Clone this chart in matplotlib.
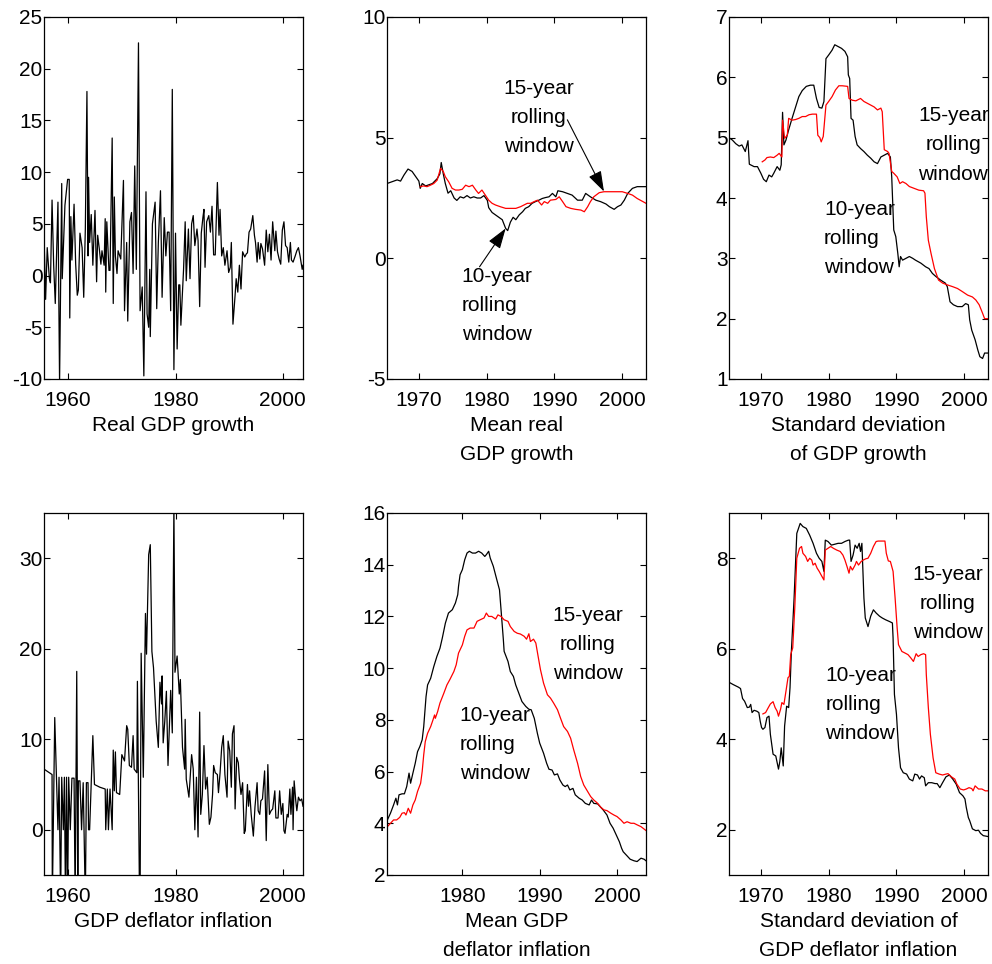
import matplotlib
matplotlib.use('Agg')
import matplotlib.pyplot as plt

plt.rcParams['font.family'] = ['Liberation Sans', 'DejaVu Sans']
plt.rcParams['axes.unicode_minus'] = False

# ---- Real GDP growth (quarterly, annualised) ----
gdp_years = [
    1955.5, 1955.8, 1956.1, 1956.5, 1956.7, 1957.0, 1957.3, 1957.6, 1958.1, 1958.4,
    1958.8, 1958.9, 1959.4, 1959.9, 1960.2, 1960.3, 1960.5, 1960.7, 1961.1, 1961.4,
    1961.7, 1961.9, 1962.2, 1962.6, 1962.9, 1963.2, 1963.5, 1963.7, 1963.8, 1964.0,
    1964.3, 1964.6, 1965.0, 1965.3, 1965.5, 1965.8, 1966.1, 1966.3, 1966.7, 1966.9,
    1967.0, 1967.2, 1967.6, 1967.8, 1968.2, 1968.4, 1968.6, 1968.8, 1969.1, 1969.3,
    1969.8, 1970.3, 1970.5, 1970.9, 1971.1, 1971.5, 1971.8, 1972.1, 1972.4, 1972.7,
    1973.1, 1973.4, 1973.8, 1974.1, 1974.5, 1974.7, 1975.0, 1975.2, 1975.3, 1975.7,
    1976.2, 1976.5, 1976.8, 1977.2, 1977.5, 1977.9, 1978.2, 1978.5, 1978.8, 1979.1,
    1979.4, 1979.7, 1980.0, 1980.3, 1980.6, 1980.8, 1981.0, 1981.5, 1981.8, 1982.0,
    1982.4, 1982.7, 1983.0, 1983.3, 1983.6, 1984.0, 1984.2, 1984.5, 1984.8, 1985.1,
    1985.3, 1985.5, 1985.8, 1986.2, 1986.5, 1986.8, 1987.1, 1987.4, 1987.6, 1987.8,
    1988.1, 1988.3, 1988.6, 1988.9, 1989.2, 1989.6, 1989.9, 1990.2, 1990.4, 1990.7,
    1991.1, 1991.3, 1991.6, 1991.9, 1992.2, 1992.5, 1992.9, 1993.2, 1993.4, 1993.7,
    1994.0, 1994.4, 1994.7, 1994.9, 1995.2, 1995.4, 1995.7, 1995.9, 1996.2, 1996.6,
    1996.9, 1997.2, 1997.5, 1997.8, 1998.1, 1998.5, 1998.7, 1999.0, 1999.3, 1999.6,
    1999.9, 2000.2, 2000.5, 2000.8, 2001.1, 2001.4, 2001.6, 2001.9, 2002.3, 2002.6,
    2002.9, 2003.2, 2003.6, 2003.75]
gdp_growth = [
    3.9, -2.3, 2.7, -0.3, -0.7, 7.3, 1.0, -2.7, 7.1, -10.3,
    8.9, -0.3, 6.8, 9.3, 9.3, -4.1, 5.7, 1.5, 6.9, 1.1,
    -1.9, -1.4, 4.1, 2.7, -2.1, 4.5, 17.8, 1.9, 9.5, 3.2,
    5.9, 1.0, 6.3, -0.6, 3.9, 2.6, 1.1, 2.4, 1.0, 5.5,
    -1.6, 5.2, 0.5, 0.5, 13.3, -2.7, 7.6, 1.9, 0.2, 2.4,
    1.6, 9.2, -3.4, 3.2, -4.4, 5.2, 6.1, 0.2, 10.6, 0.6,
    22.5, -3.4, -1.1, -9.7, 8.1, -3.7, -5.0, 0.6, -5.9, 5.0,
    7.1, -3.2, 3.2, 8.2, -2.1, 5.6, 1.9, 4.2, 4.2, -3.4,
    18.0, -9.1, 4.1, -7.1, -0.9, -0.9, -4.8, 0.6, 5.2, -0.5,
    4.5, -0.3, 5.0, 5.8, 2.9, 4.5, 3.4, -3.0, 4.1, 5.6,
    6.4, 0.8, 5.2, 5.8, 4.2, 6.7, 2.0, 2.0, 5.5, 9.0,
    3.9, 6.4, 1.9, 2.7, 1.0, 2.4, 0.3, 0.8, 3.2, -4.7,
    -1.9, -0.3, -1.6, 1.0, -1.3, 2.3, 1.8, 2.1, 2.2, 4.2,
    4.5, 5.8, 3.9, 3.2, 1.3, 3.2, 1.6, 3.1, 2.6, 1.0,
    4.4, 2.3, 4.0, 1.5, 5.2, 2.4, 4.3, 2.3, 1.6, 1.1,
    4.4, 5.2, 2.9, 2.7, 1.3, 3.2, 1.5, 1.3, 1.9, 2.4,
    2.7, 1.9, 0.6, 1.0]

# ---- GDP deflator inflation ----
infl_years = [
    1955.5, 1956.6, 1957.0, 1957.05, 1957.5, 1958.1, 1958.3, 1958.6, 1958.8, 1959.1,
    1959.3, 1959.5, 1959.7, 1959.9, 1960.1, 1960.4, 1960.7, 1961.1, 1961.3, 1961.6,
    1961.8, 1961.9, 1962.2, 1962.5, 1962.8, 1963.2, 1963.4, 1963.7, 1963.8, 1964.0,
    1964.6, 1964.9, 1965.9, 1966.9, 1967.0, 1967.3, 1967.5, 1967.8, 1968.2, 1968.4,
    1968.6, 1968.8, 1969.0, 1969.6, 1970.0, 1970.5, 1970.9, 1971.1, 1971.4, 1971.8,
    1972.1, 1972.3, 1972.8, 1972.9, 1973.3, 1973.4, 1973.6, 1974.0, 1974.4, 1974.6,
    1975.0, 1975.3, 1975.6, 1975.9, 1976.4, 1976.8, 1977.1, 1977.4, 1977.5, 1977.7,
    1978.0, 1978.3, 1978.6, 1979.1, 1979.4, 1979.7, 1979.9, 1980.3, 1980.7, 1980.9,
    1981.3, 1981.7, 1981.8, 1982.0, 1982.5, 1983.0, 1983.3, 1983.6, 1983.9, 1984.2,
    1984.5, 1984.7, 1985.0, 1985.3, 1985.6, 1985.9, 1986.3, 1986.6, 1986.9, 1987.1,
    1987.4, 1987.8, 1988.0, 1988.3, 1988.6, 1988.9, 1989.2, 1989.6, 1989.8, 1990.1,
    1990.4, 1990.6, 1990.9, 1991.1, 1991.4, 1991.7, 1991.9, 1992.2, 1992.5, 1992.8,
    1993.0, 1993.4, 1993.6, 1993.8, 1994.1, 1994.5, 1994.8, 1995.2, 1995.4, 1995.7,
    1995.9, 1996.2, 1996.6, 1996.9, 1997.2, 1997.5, 1997.8, 1998.1, 1998.5, 1998.7,
    1999.1, 1999.4, 1999.7, 2000.0, 2000.2, 2000.4, 2000.8, 2001.0, 2001.3, 2001.5,
    2001.8, 2001.9, 2002.1, 2002.4, 2002.6, 2002.9, 2003.2, 2003.5, 2003.75]
inflation = [
    6.7, 6.25, 6.1, -8, 12.4, 0, 5.8, -8, 5.8, 0,
    5.8, -8, 5.8, -8, 5.8, 0, 5.7, 5.7, -8, 17.5,
    -8, 5.4, 5.4, 0, 5.2, -8, 5.2, 5.2, 0, 0,
    10.4, 5.0, 4.7, 4.5, 0, 4.5, 0, 4.5, 0, 8.8,
    4.3, 8.6, 4.1, 3.9, 8.3, 7.6, 11.5, 11.1, 7.1, 6.9,
    10.4, 6.7, 6.3, 16.4, -8, -8, 19.5, 5.8, 23.9, 19.4,
    30.4, 31.5, 19.7, 17.9, 12.0, 9.1, 16.3, 13.9, 17.0, 9.6,
    12.0, 15.3, 7.1, 15.4, 10.7, 36.0, 17.4, 19.2, 15.0, 16.6,
    9.1, 6.7, 12.2, 5.6, 3.6, 8.3, 6.7, 0, 5.8, -0.8,
    13.0, 1.7, 3.9, 9.3, 4.5, 5.8, 0.6, 1.4, 3.9, 7.1,
    6.3, 6.1, 4.1, 6.3, 9.1, 10.4, 6.1, 3.6, 9.8, 8.7,
    4.7, 10.6, 11.5, 2.3, 8.0, 7.4, 5.6, 3.9, 5.2, -0.4,
    -0.1, 5.0, 2.6, 4.3, 1.7, -0.7, 2.5, 5.2, 2.1, 1.7,
    3.2, 3.4, 6.5, -1.2, 7.2, 1.7, 2.1, 2.3, 4.3, 1.3,
    1.3, 4.3, 1.7, 2.9, -0.1, -0.4, 1.7, 1.4, 4.5, 1.7,
    4.7, 0, 5.4, 3.2, 2.1, 3.6, 3.2, 3.4, 2.6]

# ---- Mean real GDP growth, rolling windows ----
mg10_years = [
    1965.3, 1965.8, 1966.3, 1966.8, 1967.3, 1967.8, 1968.4, 1969.0, 1969.5, 1970.0,
    1970.2, 1970.5, 1971.0, 1971.5, 1972.0, 1972.7, 1973.1, 1973.3, 1973.6, 1973.9,
    1974.3, 1974.7, 1975.2, 1975.6, 1976.1, 1976.6, 1977.1, 1977.6, 1978.1, 1978.6,
    1979.1, 1979.6, 1980.1, 1980.3, 1980.8, 1981.3, 1981.8, 1982.3, 1982.8, 1983.1,
    1983.5, 1983.9, 1984.3, 1984.8, 1985.3, 1985.7, 1986.2, 1986.7, 1987.2, 1987.7,
    1988.2, 1988.7, 1989.2, 1989.7, 1990.2, 1990.5, 1991.2, 1991.9, 1992.6, 1993.4,
    1994.1, 1994.6, 1995.3, 1996.1, 1996.8, 1997.6, 1998.1, 1998.8, 1999.3, 1999.8,
    2000.3, 2000.8, 2001.5, 2002.2, 2003.5]
mg10 = [
    3.1, 3.15, 3.2, 3.25, 3.2, 3.45, 3.7, 3.6, 3.4, 3.2,
    2.9, 3.1, 3.0, 3.05, 3.1, 3.3, 3.5, 3.97, 3.5, 3.1,
    2.7, 2.8, 2.5, 2.4, 2.55, 2.5, 2.6, 2.5, 2.55, 2.5,
    2.5, 2.6, 2.4, 2.1, 1.9, 1.8, 1.7, 1.6, 1.24, 1.15,
    1.5, 1.7, 1.6, 1.8, 1.93, 2.07, 2.14, 2.28, 2.35, 2.41,
    2.48, 2.52, 2.55, 2.69, 2.55, 2.8, 2.76, 2.69, 2.62, 2.41,
    2.41, 2.69, 2.55, 2.41, 2.35, 2.25, 2.14, 2.03, 2.14, 2.21,
    2.41, 2.69, 2.9, 2.97, 2.97]
mg15_years = [
    1970.2, 1970.7, 1971.2, 1971.7, 1972.2, 1972.7, 1973.2, 1973.6, 1973.9, 1974.4,
    1974.9, 1975.4, 1975.9, 1976.4, 1976.9, 1977.4, 1977.9, 1978.4, 1978.8, 1979.3,
    1979.8, 1980.3, 1980.8, 1981.3, 1982.0, 1982.8, 1983.5, 1984.3, 1985.0, 1985.5,
    1986.0, 1986.5, 1987.0, 1987.5, 1988.1, 1988.5, 1989.0, 1989.4, 1990.2, 1990.7,
    1991.2, 1991.7, 1992.4, 1993.1, 1993.9, 1994.4, 1994.9, 1995.3, 1995.8, 1996.6,
    1997.3, 1998.3, 1999.3, 2000.0, 2000.8, 2001.5, 2002.2, 2003.5]
mg15 = [
    2.97, 3.0, 2.97, 3.03, 3.1, 3.24, 3.73, 3.6, 3.38, 3.17,
    2.9, 2.83, 2.83, 2.86, 3.03, 2.97, 3.03, 2.83, 2.69, 2.83,
    2.62, 2.41, 2.28, 2.21, 2.14, 2.07, 2.07, 2.07, 2.14, 2.21,
    2.28, 2.28, 2.35, 2.41, 2.21, 2.35, 2.28, 2.41, 2.44, 2.55,
    2.35, 2.14, 2.07, 2.03, 2.0, 1.93, 2.14, 2.35, 2.55, 2.72,
    2.76, 2.76, 2.76, 2.76, 2.69, 2.62, 2.48, 2.28]

# ---- Standard deviation of GDP growth ----
sg10_years = [
    1965.3, 1965.8, 1966.3, 1966.8, 1967.2, 1967.7, 1968.1, 1968.3, 1969.0, 1969.5,
    1970.0, 1970.4, 1970.8, 1971.2, 1971.6, 1971.9, 1972.4, 1972.8, 1973.0, 1973.2,
    1973.4, 1973.7, 1974.1, 1974.6, 1975.1, 1975.6, 1976.1, 1976.7, 1977.3, 1977.8,
    1978.2, 1978.6, 1979.0, 1979.3, 1979.6, 1980.0, 1980.5, 1980.9, 1981.4, 1981.9,
    1982.4, 1982.8, 1982.9, 1983.1, 1983.3, 1983.6, 1983.9, 1984.2, 1984.7, 1985.2,
    1985.7, 1986.2, 1986.7, 1987.2, 1987.7, 1988.2, 1988.7, 1989.1, 1989.3, 1989.6,
    1989.9, 1990.2, 1990.4, 1990.6, 1990.9, 1991.4, 1991.9, 1992.4, 1992.8, 1993.6,
    1994.3, 1994.8, 1995.3, 1995.8, 1996.5, 1997.2, 1997.5, 1997.9, 1998.4, 1999.0,
    1999.7, 2000.2, 2000.6, 2000.8, 2001.1, 2001.6, 2002.0, 2002.3, 2002.7, 2003.0,
    2003.5]
sg10 = [
    5.0, 4.96, 4.9, 4.86, 4.88, 4.77, 4.95, 4.56, 4.52, 4.52,
    4.41, 4.31, 4.27, 4.38, 4.35, 4.41, 4.52, 4.46, 4.55, 5.42,
    4.88, 4.96, 5.13, 5.32, 5.5, 5.68, 5.78, 5.85, 5.87, 5.87,
    5.65, 5.5, 5.49, 5.6, 6.31, 6.37, 6.45, 6.54, 6.51, 6.48,
    6.43, 6.34, 6.04, 5.98, 5.32, 5.29, 5.02, 4.88, 4.82, 4.77,
    4.71, 4.66, 4.6, 4.57, 4.68, 4.71, 4.74, 4.68, 4.35, 3.47,
    3.36, 3.08, 2.86, 3.03, 2.97, 3.0, 3.03, 3.0, 2.97, 2.92,
    2.86, 2.83, 2.75, 2.7, 2.64, 2.59, 2.53, 2.28, 2.23, 2.2,
    2.2, 2.25, 2.23, 1.98, 1.81, 1.65, 1.48, 1.37, 1.34, 1.43,
    1.43]
sg15_years = [
    1970.2, 1970.6, 1970.9, 1971.4, 1971.9, 1972.4, 1972.7, 1973.1, 1973.2, 1973.5,
    1973.9, 1974.1, 1974.6, 1975.1, 1975.6, 1976.1, 1976.6, 1977.1, 1977.6, 1978.2,
    1978.4, 1978.7, 1978.9, 1979.2, 1979.6, 1980.0, 1980.5, 1981.0, 1981.5, 1982.0,
    1982.8, 1983.0, 1983.5, 1984.0, 1984.7, 1985.2, 1985.7, 1986.2, 1986.7, 1987.2,
    1987.7, 1987.9, 1988.2, 1988.7, 1988.9, 1989.3, 1989.6, 1990.1, 1990.5, 1990.9,
    1991.4, 1991.9, 1992.6, 1993.3, 1994.0, 1994.2, 1994.4, 1994.7, 1995.1, 1995.6,
    1996.2, 1996.8, 1997.5, 1998.3, 1999.0, 1999.7, 2000.5, 2001.2, 2001.7, 2002.2,
    2002.7, 2003.0, 2003.5]
sg15 = [
    4.6, 4.63, 4.67, 4.68, 4.67, 4.71, 4.74, 4.68, 5.29, 4.99,
    5.04, 5.32, 5.29, 5.3, 5.32, 5.35, 5.35, 5.38, 5.39, 5.39,
    5.04, 5.0, 4.93, 5.02, 5.54, 5.6, 5.68, 5.79, 5.86, 5.86,
    5.85, 5.65, 5.62, 5.61, 5.65, 5.6, 5.57, 5.54, 5.51, 5.46,
    5.49, 5.43, 4.8, 4.77, 4.74, 4.44, 4.41, 4.35, 4.24, 4.27,
    4.24, 4.19, 4.16, 4.13, 4.12, 4.08, 3.69, 3.3, 3.08, 2.83,
    2.64, 2.59, 2.56, 2.53, 2.5, 2.45, 2.39, 2.36, 2.31, 2.23,
    2.09, 2.0, 2.0]

# ---- Mean GDP deflator inflation ----
mi10_years = [
    1970.3, 1970.7, 1971.1, 1971.4, 1971.6, 1971.8, 1972.2, 1972.5, 1972.8, 1973.1,
    1973.3, 1973.6, 1973.9, 1974.2, 1974.5, 1974.8, 1975.0, 1975.3, 1975.5, 1975.9,
    1976.3, 1976.7, 1977.1, 1977.4, 1977.8, 1978.2, 1978.7, 1979.1, 1979.4, 1979.5,
    1979.7, 1980.0, 1980.3, 1980.6, 1980.9, 1981.3, 1981.7, 1982.1, 1982.5, 1982.9,
    1983.1, 1983.4, 1983.6, 1984.0, 1984.4, 1984.8, 1985.0, 1985.3, 1985.4, 1985.9,
    1986.2, 1986.6, 1986.9, 1987.3, 1987.7, 1988.2, 1988.6, 1988.9, 1989.3, 1989.7,
    1990.0, 1990.5, 1990.9, 1991.2, 1991.6, 1991.9, 1992.3, 1992.6, 1993.0, 1993.3,
    1993.6, 1993.9, 1994.3, 1994.6, 1995.1, 1995.5, 1995.9, 1996.4, 1996.7, 1997.0,
    1997.5, 1997.8, 1998.2, 1998.7, 1999.1, 1999.5, 1999.9, 2000.3, 2000.6, 2000.8,
    2001.3, 2001.7, 2002.2, 2002.6, 2003.1, 2003.5, 2003.75]
mi10 = [
    4.13, 4.39, 4.71, 4.97, 4.71, 5.1, 5.14, 5.14, 5.42, 5.94,
    5.55, 5.94, 6.32, 6.77, 6.97, 7.23, 7.74, 8.9, 9.35, 9.61,
    10.06, 10.45, 10.77, 11.16, 11.74, 12.13, 12.26, 12.52, 12.84, 13.16,
    13.61, 13.81, 14.19, 14.45, 14.52, 14.45, 14.45, 14.52, 14.45, 14.32,
    14.39, 14.52, 14.26, 13.94, 13.48, 13.03, 12.26, 11.10, 10.65, 10.26,
    9.87, 9.68, 9.35, 9.03, 8.71, 8.52, 8.41, 8.39, 8.06, 7.48,
    7.1, 6.71, 6.32, 6.09, 6.06, 5.87, 5.91, 5.68, 5.48, 5.42,
    5.48, 5.29, 5.35, 5.1, 4.97, 4.9, 4.77, 4.71, 4.9, 4.77,
    4.75, 4.65, 4.52, 4.32, 4.0, 3.81, 3.55, 3.29, 3.03, 2.9,
    2.74, 2.61, 2.55, 2.52, 2.65, 2.61, 2.55]
mi15_years = [
    1970.3, 1970.7, 1971.1, 1971.5, 1971.9, 1972.2, 1972.5, 1972.7, 1973.0, 1973.3,
    1973.6, 1973.9, 1974.2, 1974.6, 1974.8, 1975.0, 1975.2, 1975.5, 1975.9, 1976.2,
    1976.4, 1976.5, 1976.8, 1977.1, 1977.6, 1978.0, 1978.4, 1978.9, 1979.2, 1979.5,
    1980.0, 1980.3, 1980.6, 1981.0, 1981.5, 1981.9, 1982.3, 1982.8, 1983.1, 1983.4,
    1983.8, 1984.3, 1984.6, 1985.0, 1985.4, 1985.9, 1986.2, 1986.7, 1987.1, 1987.5,
    1988.0, 1988.3, 1988.6, 1988.8, 1989.2, 1989.5, 1989.8, 1990.1, 1990.5, 1991.0,
    1991.4, 1991.8, 1992.3, 1992.7, 1993.1, 1993.6, 1994.0, 1994.4, 1994.9, 1995.3,
    1995.7, 1996.2, 1996.6, 1997.0, 1997.5, 1997.9, 1998.3, 1998.7, 1999.2, 1999.6,
    2000.0, 2000.5, 2000.9, 2001.3, 2001.8, 2002.2, 2002.6, 2003.1, 2003.75]
mi15 = [
    3.87, 4.0, 4.13, 4.13, 4.23, 4.39, 4.41, 4.32, 4.58, 4.39,
    4.71, 4.9, 5.23, 5.55, 6.0, 6.65, 7.16, 7.48, 7.74, 8.0,
    8.19, 8.06, 8.32, 8.65, 9.03, 9.35, 9.57, 9.87, 10.13, 10.58,
    10.9, 11.23, 11.48, 11.55, 11.55, 11.81, 11.87, 11.94, 12.13, 12.0,
    12.0, 11.9, 12.06, 12.0, 11.87, 11.81, 11.61, 11.42, 11.35, 11.32,
    11.23, 11.12, 11.33, 11.03, 11.12, 10.97, 10.45, 9.94, 9.42, 8.97,
    8.84, 8.65, 8.39, 8.06, 7.74, 7.55, 7.29, 6.84, 6.32, 5.81,
    5.48, 5.23, 5.03, 4.9, 4.77, 4.62, 4.52, 4.49, 4.39, 4.32,
    4.26, 4.13, 4.0, 4.06, 4.0, 4.0, 3.94, 3.87, 3.72]

# ---- Standard deviation of GDP deflator inflation ----
si10_years = [
    1965.3, 1965.9, 1966.7, 1967.0, 1967.3, 1967.6, 1968.0, 1968.3, 1968.5, 1968.7,
    1969.0, 1969.4, 1969.7, 1969.9, 1970.1, 1970.3, 1970.6, 1970.9, 1971.2, 1971.4,
    1971.8, 1972.2, 1972.6, 1972.8, 1973.0, 1973.3, 1973.5, 1973.8, 1974.1, 1974.3,
    1974.5, 1974.9, 1975.3, 1975.8, 1976.2, 1976.7, 1977.2, 1977.7, 1978.2, 1978.6,
    1979.0, 1979.3, 1979.5, 1979.9, 1980.4, 1980.9, 1981.4, 1981.9, 1982.4, 1982.9,
    1983.1, 1983.3, 1983.6, 1983.9, 1984.2, 1984.5, 1984.7, 1984.9, 1985.2, 1985.4,
    1985.8, 1986.2, 1986.6, 1987.0, 1987.5, 1987.9, 1988.4, 1989.0, 1989.4, 1989.5,
    1989.7, 1990.0, 1990.3, 1990.6, 1991.0, 1991.5, 1991.9, 1992.4, 1992.7, 1993.1,
    1993.4, 1993.7, 1994.1, 1994.3, 1994.7, 1995.2, 1995.7, 1996.0, 1996.4, 1996.8,
    1997.3, 1997.8, 1998.3, 1998.8, 1999.3, 1999.8, 2000.1, 2000.3, 2000.6, 2000.8,
    2001.2, 2001.7, 2002.1, 2002.4, 2002.8, 2003.5]
si10 = [
    5.26, 5.21, 5.15, 5.12, 4.9, 4.84, 4.7, 4.71, 4.77, 4.59,
    4.64, 4.62, 4.59, 4.4, 4.26, 4.22, 4.26, 4.48, 4.51, 4.11,
    3.67, 3.63, 3.34, 3.51, 3.81, 3.41, 4.29, 4.73, 4.7, 5.14,
    5.94, 7.12, 8.55, 8.77, 8.7, 8.66, 8.51, 8.33, 8.11, 8.0,
    7.93, 7.71, 8.4, 8.37, 8.29, 8.31, 8.33, 8.33, 8.37, 8.4,
    8.4, 7.93, 8.07, 8.29, 8.22, 8.33, 8.15, 8.33, 7.12, 6.68,
    6.49, 6.72, 6.86, 6.79, 6.72, 6.68, 6.64, 6.6, 6.57, 6.24,
    4.99, 4.55, 3.81, 3.37, 3.26, 3.23, 3.12, 3.08, 3.23, 3.21,
    3.12, 3.19, 3.15, 2.97, 3.04, 3.04, 3.02, 3.02, 2.93, 3.04,
    3.17, 3.21, 3.12, 3.01, 2.82, 2.75, 2.68, 2.49, 2.27, 2.2,
    2.02, 1.98, 1.99, 1.92, 1.87, 1.85]
si15_years = [
    1970.3, 1970.7, 1971.1, 1971.4, 1971.8, 1972.1, 1972.4, 1972.6, 1972.9, 1973.1,
    1973.4, 1973.7, 1974.0, 1974.2, 1974.4, 1974.7, 1975.0, 1975.3, 1975.7, 1976.0,
    1976.2, 1976.6, 1976.9, 1977.2, 1977.5, 1977.7, 1978.0, 1978.3, 1978.6, 1979.0,
    1979.3, 1979.5, 1979.9, 1980.3, 1980.7, 1981.2, 1981.7, 1982.1, 1982.4, 1982.7,
    1983.0, 1983.2, 1983.5, 1983.9, 1984.1, 1984.4, 1984.8, 1985.1, 1985.5, 1985.8,
    1986.2, 1986.6, 1987.0, 1987.3, 1987.8, 1988.3, 1988.5, 1988.8, 1989.1, 1989.5,
    1989.8, 1990.1, 1990.3, 1990.8, 1991.2, 1991.7, 1992.1, 1992.5, 1992.9, 1993.2,
    1993.6, 1994.0, 1994.3, 1994.4, 1994.7, 1995.0, 1995.4, 1995.8, 1996.3, 1996.8,
    1997.3, 1997.6, 1998.1, 1998.6, 1998.9, 1999.4, 1999.9, 2000.3, 2000.7, 2001.1,
    2001.3, 2001.6, 2002.1, 2002.6, 2003.1, 2003.5]
si15 = [
    4.56, 4.59, 4.7, 4.78, 4.83, 4.7, 4.62, 4.51, 4.66, 4.81,
    4.77, 5.06, 5.36, 5.39, 5.87, 6.02, 6.9, 8.0, 8.22, 8.26,
    8.11, 8.04, 7.93, 8.0, 7.96, 7.85, 7.89, 7.78, 7.71, 7.6,
    7.52, 8.18, 8.22, 8.26, 8.22, 8.18, 8.15, 8.07, 7.96, 7.82,
    7.67, 7.82, 7.74, 7.85, 7.93, 7.85, 7.93, 7.96, 7.99, 8.0,
    8.11, 8.26, 8.37, 8.38, 8.38, 8.38, 8.11, 7.94, 7.93, 7.71,
    7.12, 6.46, 6.09, 5.94, 5.91, 5.87, 5.8, 5.72, 5.89, 5.83,
    5.87, 5.89, 5.87, 5.43, 4.7, 4.11, 3.59, 3.26, 3.23, 3.21,
    3.23, 3.24, 3.17, 3.12, 3.01, 2.9, 2.88, 2.9, 2.93, 2.91,
    2.86, 2.97, 2.9, 2.9, 2.86, 2.86]

FS = 15
LS = 1.68
fig = plt.figure(figsize=(9.92, 9.64), dpi=100)

col_left = [44 / 992, 387 / 992, 729 / 992]
width = 259 / 992
row_bottom = [1 - 379 / 964, 1 - 875 / 964]
height = 362 / 964


def make_ax(col, row):
    ax = fig.add_axes([col_left[col], row_bottom[row], width, height])
    ax.tick_params(direction='in', top=True, right=True, length=4, width=0.8,
                   labelsize=FS)
    ax.tick_params(axis='y', pad=1)
    ax.tick_params(axis='x', pad=9)
    for s in ax.spines.values():
        s.set_linewidth(0.9)
    return ax


def label(ax, text):
    ax.set_xlabel(text, fontsize=FS, linespacing=LS, labelpad=4)


def windows(ax, x15, ys15, x10, ys10):
    ax.text(x15, ys15, '15-year\nrolling\nwindow', fontsize=FS, ha='center',
            va='top', linespacing=LS, clip_on=True)
    ax.text(x10, ys10, '10-year\nrolling\nwindow', fontsize=FS, ha='left',
            va='top', linespacing=LS)


# Real GDP growth
ax = make_ax(0, 0)
ax.plot(gdp_years, gdp_growth, color='k', lw=0.9)
ax.set_xlim(1955.5, 2003.75)
ax.set_ylim(-10, 25)
ax.set_xticks([1960, 1980, 2000])
ax.set_yticks(range(-10, 26, 5))
label(ax, 'Real GDP growth')

# Mean real GDP growth
ax = make_ax(1, 0)
ax.plot(mg10_years, mg10, color='k', lw=0.9)
ax.plot(mg15_years, mg15, color='red', lw=0.9)
ax.set_xlim(1965.3, 2003.5)
ax.set_ylim(-5, 10)
ax.set_xticks([1970, 1980, 1990, 2000])
ax.set_yticks([-5, 0, 5, 10])
ax.text(1987.7, 7.45, '15-year\nrolling\nwindow', fontsize=FS, ha='center',
        va='top', linespacing=LS)
ax.text(1976.3, -0.35, '10-year\nrolling\nwindow', fontsize=FS, ha='left',
        va='top', linespacing=LS)
arrow = dict(arrowstyle='-|>,head_length=0.9,head_width=0.3', color='k',
             lw=0.8, shrinkA=0, shrinkB=0, mutation_scale=14)
ax.annotate('', xy=(1997.3, 2.77), xytext=(1991.9, 5.74), arrowprops=arrow)
ax.annotate('', xy=(1982.8, 1.24), xytext=(1978.95, -0.35), arrowprops=arrow)
label(ax, 'Mean real\nGDP growth')

# Std of GDP growth
ax = make_ax(2, 0)
ax.plot(sg10_years, sg10, color='k', lw=0.9)
ax.plot(sg15_years, sg15, color='red', lw=0.9)
ax.set_xlim(1965.3, 2003.5)
ax.set_ylim(1, 7)
ax.set_xticks([1970, 1980, 1990, 2000])
ax.set_yticks(range(1, 8))
windows(ax, 1998.4, 5.52, 1979.3, 3.97)
label(ax, 'Standard deviation\nof GDP growth')

# GDP deflator inflation
ax = make_ax(0, 1)
ax.plot(infl_years, inflation, color='k', lw=0.9)
ax.set_xlim(1955.5, 2003.75)
ax.set_ylim(-5, 35)
ax.set_xticks([1960, 1980, 2000])
ax.set_yticks([0, 10, 20, 30])
label(ax, 'GDP deflator inflation')

# Mean GDP deflator inflation
ax = make_ax(1, 1)
ax.plot(mi10_years, mi10, color='k', lw=0.9)
ax.plot(mi15_years, mi15, color='red', lw=0.9)
ax.set_xlim(1970.25, 2003.75)
ax.set_ylim(2, 16)
ax.set_xticks([1980, 1990, 2000])
ax.set_yticks(range(2, 17, 2))
windows(ax, 1996.2, 12.4, 1979.65, 8.55)
label(ax, 'Mean GDP\ndeflator inflation')

# Std of GDP deflator inflation
ax = make_ax(2, 1)
ax.plot(si10_years, si10, color='k', lw=0.9)
ax.plot(si15_years, si15, color='red', lw=0.9)
ax.set_xlim(1965.3, 2003.5)
ax.set_ylim(1, 9)
ax.set_xticks([1970, 1980, 1990, 2000])
ax.set_yticks([2, 4, 6, 8])
windows(ax, 1997.6, 7.85, 1979.5, 5.62)
label(ax, 'Standard deviation of\nGDP deflator inflation')

fig.savefig('out.png', dpi=100)
